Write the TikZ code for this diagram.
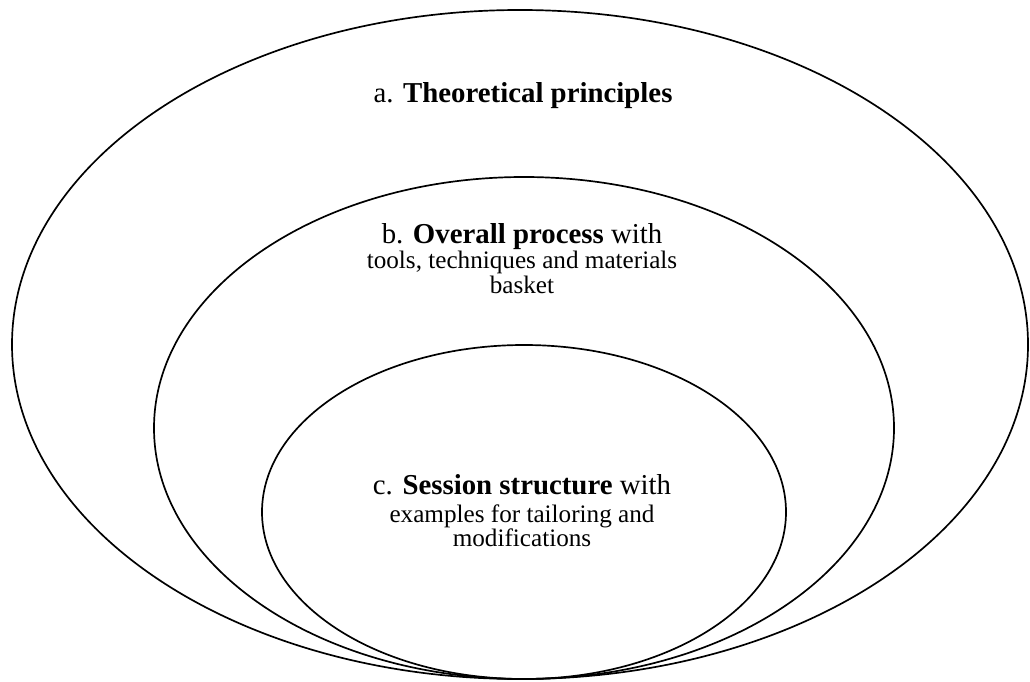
\documentclass[tikz,border=0pt]{standalone}
\usepackage{fontspec}
\setmainfont{Liberation Serif}
\newcommand{\hdsize}{\fontsize{20.5}{24}\selectfont}
\newcommand{\txsize}{\fontsize{17.9}{17}\selectfont}
\begin{document}
\begin{tikzpicture}[x=.025cm,y=-.025cm, line join=round, line cap=round,
  ring/.style={draw, line width=1.2pt},
  label/.style={align=center, inner sep=0pt, anchor=base, font=\txsize}]
\useasboundingbox (0,0) rectangle (1030,682);
% three nested rings touching at the bottom
\draw[ring] (520,344.5) ellipse[x radius=508, y radius=334.5];
\draw[ring] (524,428) ellipse[x radius=370, y radius=251];
\draw[ring] (524,512) ellipse[x radius=262, y radius=167];
\node[label] (theory) at (523,103) {{\hdsize a. \textbf{Theoretical principles}}};
\node[label] (process) at (522,293) {{\hdsize b. \textbf{Overall process} with}\\[1pt]
  tools, techniques and materials\\[0.5pt] basket};
\node[label] (session) at (522,546) {{\hdsize c. \textbf{Session structure} with}\\[2.3pt]
  examples for tailoring and\\ modifications};
\end{tikzpicture}
\end{document}
